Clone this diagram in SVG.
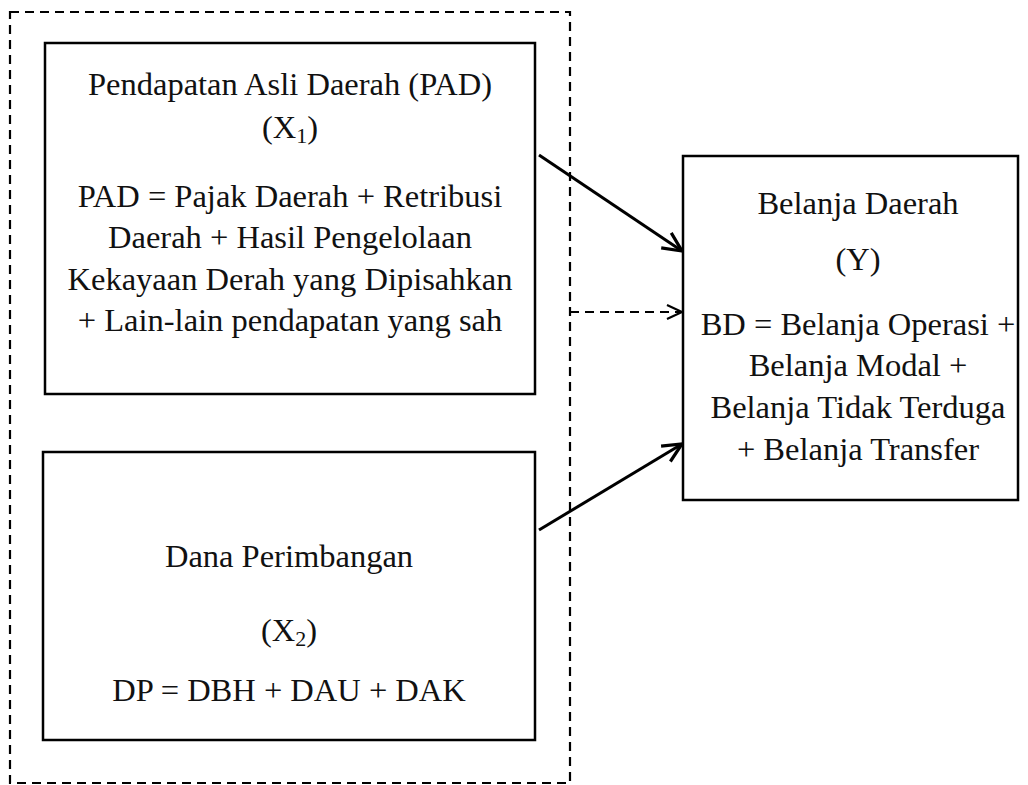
<svg xmlns="http://www.w3.org/2000/svg" width="1028" height="785" viewBox="0 0 1028 785">
<style>
.box{fill:#fff;stroke:#000;stroke-width:2.5}
.t{font-family:"Liberation Serif","Times New Roman",serif;font-size:32.5px;fill:#111;text-anchor:middle}
.dash{fill:none;stroke:#000;stroke-width:2.2;stroke-dasharray:9,6}
.conn{fill:none;stroke:#000;stroke-width:3}
</style>
<defs>
<marker id="ah" viewBox="0 0 24 24" refX="22" refY="12" markerWidth="24" markerHeight="24" markerUnits="userSpaceOnUse" orient="auto">
<path d="M3,3 L22,12 L3,21" fill="none" stroke="#000" stroke-width="3.2"/>
</marker>
<marker id="ahd" viewBox="0 0 20 20" refX="18" refY="10" markerWidth="20" markerHeight="20" markerUnits="userSpaceOnUse" orient="auto">
<path d="M3,3 L18,10 L3,17" fill="none" stroke="#000" stroke-width="2.2"/>
</marker>
</defs>
<rect x="10" y="12" width="560" height="771" class="dash"/>
<g id="pad">
<rect x="45" y="43" width="490" height="351" class="box"/>
<text class="t" x="290" y="95">Pendapatan Asli Daerah (PAD)</text>
<text class="t" x="290" y="138">(X<tspan font-size="22" dy="5">1</tspan><tspan dy="-5">)</tspan></text>
<text class="t" x="290" y="207">PAD = Pajak Daerah + Retribusi</text>
<text class="t" x="290" y="248">Daerah + Hasil Pengelolaan</text>
<text class="t" x="290" y="290">Kekayaan Derah yang Dipisahkan</text>
<text class="t" x="290" y="331">+ Lain-lain pendapatan yang sah</text>
</g>
<g id="dp">
<rect x="43" y="452" width="492" height="288" class="box"/>
<text class="t" x="289" y="567">Dana Perimbangan</text>
<text class="t" x="289" y="641">(X<tspan font-size="22" dy="5">2</tspan><tspan dy="-5">)</tspan></text>
<text class="t" x="289" y="701">DP = DBH + DAU + DAK</text>
</g>
<g id="bd">
<rect x="683" y="156" width="335" height="344" class="box"/>
<text class="t" x="858" y="214">Belanja Daerah</text>
<text class="t" x="858" y="270">(Y)</text>
<text class="t" x="858" y="335">BD = Belanja Operasi +</text>
<text class="t" x="858" y="376">Belanja Modal +</text>
<text class="t" x="858" y="418">Belanja Tidak Terduga</text>
<text class="t" x="858" y="460">+ Belanja Transfer</text>
</g>
<g id="connectors">
<line x1="539" y1="155" x2="682" y2="251" class="conn" marker-end="url(#ah)"/>
<line x1="570" y1="312" x2="682" y2="312" class="dash" marker-end="url(#ahd)"/>
<line x1="539" y1="530" x2="682" y2="444" class="conn" marker-end="url(#ah)"/>
</g>
</svg>
